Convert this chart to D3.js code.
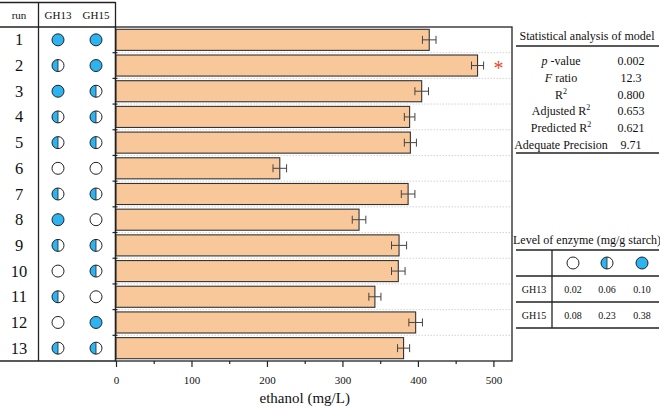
<!DOCTYPE html>
<html><head><meta charset="utf-8">
<script src="https://cdn.jsdelivr.net/npm/d3@7"></script>
<style>body{margin:0;background:#fff}svg{display:block;font-family:"Liberation Serif","Times New Roman",serif}</style>
</head><body>
<svg id="c" width="660" height="408"></svg>
<script>
const runs = ["1","2","3","4","5","6","7","8","9","10","11","12","13"];
const ethanol = [415, 479, 405, 389, 390, 217, 387, 322, 375, 374, 343, 397, 381];
const errors = [9, 8, 9, 7, 8, 9, 9, 9, 10, 9, 8, 9, 8];
const gh13Level = [2,1,2,1,1,0,1,2,1,0,1,0,1];
const gh15Level = [2,2,1,1,1,0,1,0,1,1,0,2,1];
const xTicks = [0,100,200,300,400,500];
const statLabels = ["p-value","F ratio","R2","Adjusted R2","Predicted R2","Adequate Precision"];
const statValues = ["0.002","12.3","0.800","0.653","0.621","9.71"];
const enzymeNames = ["GH13","GH15"];
const enzymeLevels = [["0.02","0.06","0.10"],["0.08","0.23","0.38"]];
const sigRun = "2";

(function(){
const svg = d3.select("#c");
const blue = "#2db4f0", stroke = "#222";
const pTop = 27, pBottom = 361, pLeft = 115.5, pRight = 512;

const x = d3.scaleLinear().domain([0, 500]).range([116, 493.4]);
const y = d3.scaleBand().domain(runs).range([pTop, pBottom]).paddingInner(0.18).paddingOuter(0.09);
const yRow = d3.scaleBand().domain(runs).range([pTop, pBottom]);

// left table frame
const lt = svg.append("g");
lt.append("line").attr("x1",0).attr("x2",pLeft).attr("y1",2.5).attr("y2",2.5).attr("stroke",stroke).attr("stroke-width",1.3);
lt.append("line").attr("x1",0).attr("x2",pLeft).attr("y1",pTop).attr("y2",pTop).attr("stroke",stroke).attr("stroke-width",1.3);
lt.append("line").attr("x1",38.5).attr("x2",38.5).attr("y1",2).attr("y2",pBottom).attr("stroke",stroke).attr("stroke-width",1.3);
lt.append("line").attr("x1",0).attr("x2",pLeft).attr("y1",pBottom).attr("y2",pBottom).attr("stroke",stroke).attr("stroke-width",1.3);
lt.append("line").attr("x1",pLeft).attr("x2",pLeft).attr("y1",2).attr("y2",pBottom).attr("stroke",stroke).attr("stroke-width",1.3);
[["run",19],["GH13",58],["GH15",96]].forEach(([t,cx])=>{
  lt.append("text").attr("x",cx).attr("y",19).attr("text-anchor","middle").attr("font-size",11).attr("fill","#111").text(t);
});
lt.selectAll("text.run").data(runs).join("text").attr("class","run")
  .attr("x",19).attr("y",d=>yRow(d)+yRow.bandwidth()/2+5.5).attr("text-anchor","middle").attr("font-size",16.5).attr("fill","#111").text(d=>d);

function drawCircle(g, cx, cy, level, r=6) {
  g.append("circle").attr("cx",cx).attr("cy",cy).attr("r",r).attr("fill", level===2?blue:"#fff");
  if (level===1) {
    g.append("path").attr("d",`M${cx},${cy-r} A${r},${r} 0 0,0 ${cx},${cy+r} Z`).attr("fill",blue);
    g.append("line").attr("x1",cx).attr("x2",cx).attr("y1",cy-r).attr("y2",cy+r).attr("stroke",stroke).attr("stroke-width",0.8);
  }
  g.append("circle").attr("cx",cx).attr("cy",cy).attr("r",r).attr("fill","none").attr("stroke",stroke).attr("stroke-width",1);
}
runs.forEach((r,i)=>{
  const cy = yRow(r)+yRow.bandwidth()/2;
  drawCircle(lt, 58, cy, gh13Level[i]);
  drawCircle(lt, 96, cy, gh15Level[i]);
});

// plot
const pg = svg.append("g");
pg.selectAll("line.grid").data(runs.slice(1)).join("line").attr("class","grid")
  .attr("x1",pLeft).attr("x2",pRight).attr("y1",d=>yRow(d)).attr("y2",d=>yRow(d))
  .attr("stroke","#c8c8c8").attr("stroke-dasharray","1.5,1.5").attr("stroke-width",0.8);
pg.selectAll("rect.bar").data(runs).join("rect").attr("class","bar")
  .attr("x",x(0)).attr("y",d=>y(d)).attr("height",y.bandwidth())
  .attr("width",(d,i)=>x(ethanol[i])-x(0))
  .attr("fill","#f9c89a").attr("stroke","#333").attr("stroke-width",1.1);
const eg = pg.append("g").attr("stroke","#444").attr("stroke-width",1);
runs.forEach((r,i)=>{
  const cy = y(r)+y.bandwidth()/2;
  const x1 = x(ethanol[i]-errors[i]), x2 = x(ethanol[i]+errors[i]);
  eg.append("line").attr("x1",x1).attr("x2",x2).attr("y1",cy).attr("y2",cy);
  eg.append("line").attr("x1",x1).attr("x2",x1).attr("y1",cy-4).attr("y2",cy+4);
  eg.append("line").attr("x1",x2).attr("x2",x2).attr("y1",cy-4).attr("y2",cy+4);
});
const si = runs.indexOf(sigRun);
pg.append("text").attr("x",x(ethanol[si]+errors[si])+10).attr("y",y(sigRun)+y.bandwidth()/2+9)
  .attr("font-size",20).attr("fill","#e5482a").text("*");
pg.append("rect").attr("x",pLeft).attr("y",pTop).attr("width",pRight-pLeft).attr("height",pBottom-pTop)
  .attr("fill","none").attr("stroke",stroke).attr("stroke-width",1.3);
pg.selectAll("line.yt").data(runs.slice(1)).join("line").attr("class","yt")
  .attr("x1",pLeft-3).attr("x2",pLeft+2).attr("y1",d=>yRow(d)).attr("y2",d=>yRow(d)).attr("stroke",stroke).attr("stroke-width",1.2);
const xa = svg.append("g").attr("transform",`translate(0,${pBottom})`)
  .call(d3.axisBottom(x).tickValues(xTicks).tickSize(6).tickPadding(9).tickFormat(d3.format("d")));
xa.select(".domain").remove();
xa.selectAll("text").attr("font-size",11).attr("font-family","Liberation Serif").attr("fill","#111");
xa.selectAll("line").attr("stroke",stroke).attr("stroke-width",1.2);
const xm = svg.append("g").attr("transform",`translate(0,${pBottom})`)
  .call(d3.axisBottom(x).tickValues(d3.range(50,500,100)).tickSize(3).tickFormat(""));
xm.select(".domain").remove();
xm.selectAll("line").attr("stroke",stroke).attr("stroke-width",1.2);
svg.append("text").attr("x",(x(0)+x(500))/2).attr("y",403).attr("text-anchor","middle").attr("font-size",15).attr("fill","#111").text("ethanol (mg/L)");

// stats table
const st = svg.append("g");
st.append("text").attr("x",587).attr("y",40).attr("text-anchor","middle").attr("font-size",12).attr("fill","#111").text("Statistical analysis of model");
st.append("line").attr("x1",516).attr("x2",659).attr("y1",46).attr("y2",46).attr("stroke",stroke).attr("stroke-width",1.3);
st.append("line").attr("x1",516).attr("x2",659).attr("y1",153).attr("y2",153).attr("stroke",stroke).attr("stroke-width",1.3);
statLabels.forEach((lab,i)=>{
  const yy = 65 + i*16.8;
  const t = st.append("text").attr("x",561).attr("y",yy).attr("text-anchor","middle").attr("font-size",12).attr("fill","#111");
  if (lab==="p-value") { t.append("tspan").attr("font-style","italic").text("p"); t.append("tspan").text(" -value"); }
  else if (lab==="F ratio") { t.append("tspan").attr("font-style","italic").text("F"); t.append("tspan").text("  ratio"); }
  else if (lab.endsWith("R2")) { t.append("tspan").text(lab.slice(0,-1)); t.append("tspan").attr("font-size",8).attr("dy",-5).text("2"); }
  else t.text(lab);
  st.append("text").attr("x",631).attr("y",yy).attr("text-anchor","middle").attr("font-size",12).attr("fill","#111").text(statValues[i]);
});

// enzyme level table
const et = svg.append("g");
et.append("text").attr("x",587).attr("y",244).attr("text-anchor","middle").attr("font-size",12).attr("fill","#111").text("Level of enzyme (mg/g starch)");
[250,276,302,328].forEach(yy=>et.append("line").attr("x1",516).attr("x2",659).attr("y1",yy).attr("y2",yy).attr("stroke",stroke).attr("stroke-width",1.3));
et.append("line").attr("x1",552).attr("x2",552).attr("y1",250).attr("y2",328).attr("stroke",stroke).attr("stroke-width",1.3);
const cols = [573, 607, 642];
[0,1,2].forEach((lv,j)=>drawCircle(et, cols[j], 263, lv));
enzymeNames.forEach((n,i)=>{
  const yy = 293 + i*26;
  et.append("text").attr("x",534).attr("y",yy).attr("text-anchor","middle").attr("font-size",10).attr("fill","#111").text(n);
  enzymeLevels[i].forEach((v,j)=>et.append("text").attr("x",cols[j]).attr("y",yy).attr("text-anchor","middle").attr("font-size",10).attr("fill","#111").text(v));
});
})();
</script>
</body></html>
